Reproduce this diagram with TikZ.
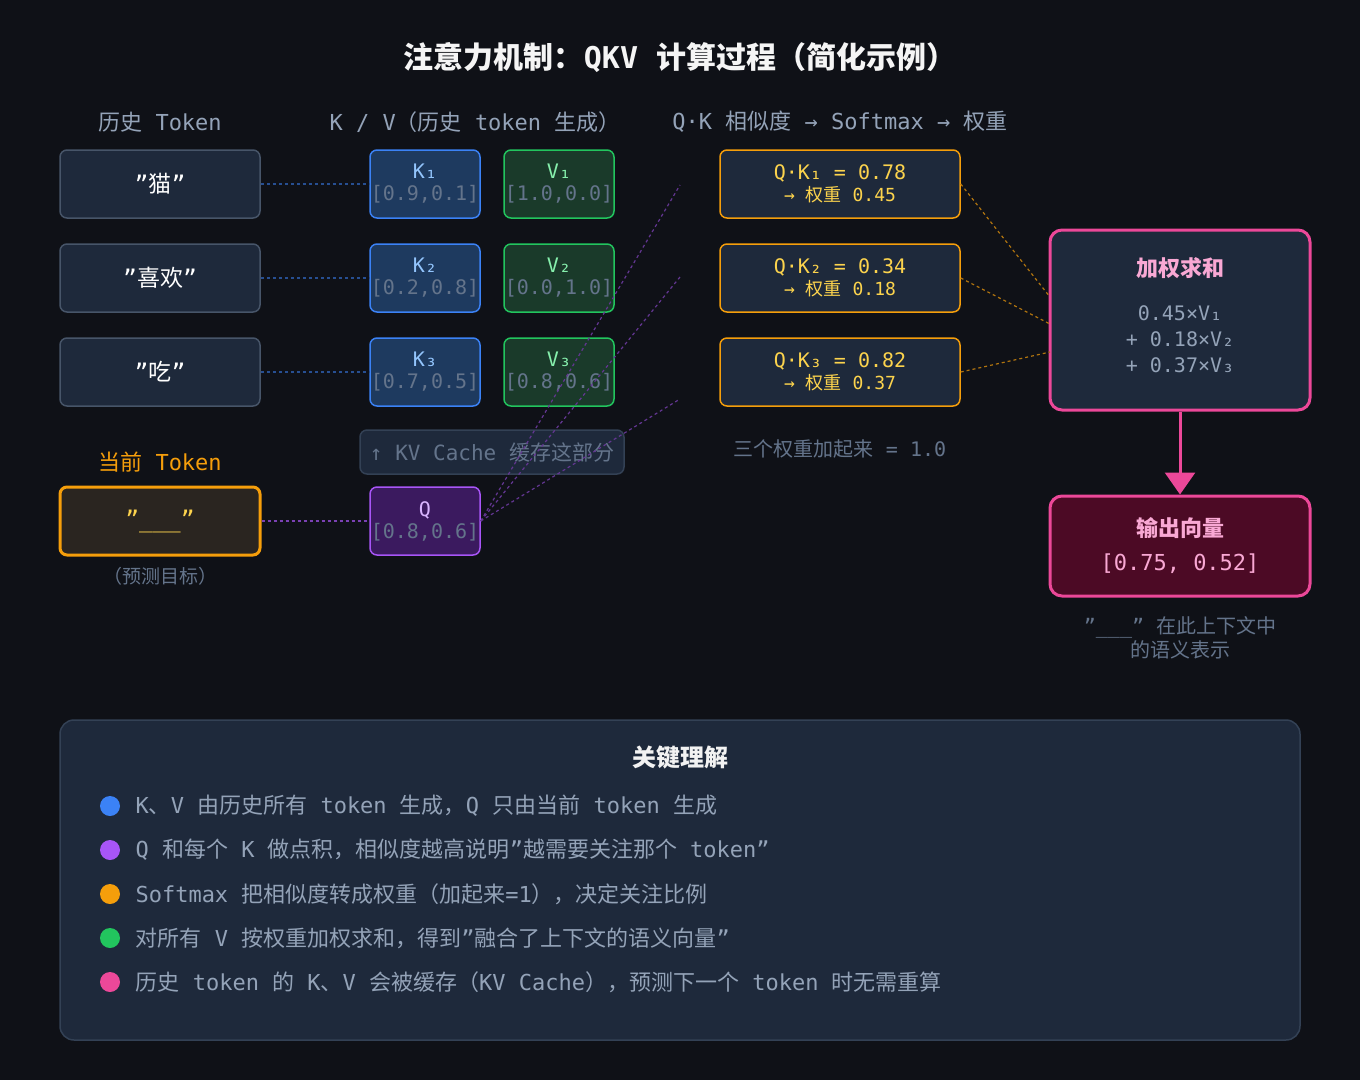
\documentclass[tikz,border=0pt]{standalone}
\usepackage{fontspec}
\setmainfont{DejaVu Sans Mono}
\newfontfamily\cjk{Noto Sans CJK SC}
\newcommand\zh[1]{{\cjk #1}}
\usetikzlibrary{arrows.meta}
\definecolor{bg}{HTML}{0F1117}
\definecolor{panel}{HTML}{1E293B}
\definecolor{slate}{HTML}{475569}
\definecolor{slateb}{HTML}{334155}
\definecolor{gray4}{HTML}{94A3B8}
\definecolor{gray5}{HTML}{64748B}
\definecolor{blue5}{HTML}{3B82F6}
\definecolor{blue3}{HTML}{93C5FD}
\definecolor{kfill}{HTML}{1E3A5F}
\definecolor{green5}{HTML}{22C55E}
\definecolor{green3}{HTML}{86EFAC}
\definecolor{vfill}{HTML}{1A3A2A}
\definecolor{purp5}{HTML}{A855F7}
\definecolor{purp3}{HTML}{D8B4FE}
\definecolor{qfill}{HTML}{3B1A5F}
\definecolor{orange5}{HTML}{F59E0B}
\definecolor{yell3}{HTML}{FCD34D}
\definecolor{pink5}{HTML}{EC4899}
\definecolor{pink3}{HTML}{F9A8D4}
\definecolor{outfill}{HTML}{4C0A25}
\definecolor{curfill}{HTML}{2A2520}
\newcommand\vecl[1]{\\[-2pt]{\color{gray5}#1}}
\begin{document}
\begin{tikzpicture}[x=1pt,y=-1pt,
  fs/.style={font=\fontsize{#1}{#1}\selectfont\setlength\baselineskip{1.2\baselineskip}},
  box/.style={rounded corners=7pt,line width=1.5pt,inner sep=0pt},
  tok/.style={box,draw=slate,fill=panel,minimum width=200pt,minimum height=68pt,text=white,fs=23},
  kbox/.style={box,draw=blue5,fill=kfill,minimum width=110pt,minimum height=68pt,align=center,fs=20,text=blue3},
  vbox/.style={box,draw=green5,fill=vfill,minimum width=110pt,minimum height=68pt,align=center,fs=20,text=green3},
  qbox/.style={box,draw=purp5,fill=qfill,minimum width=110pt,minimum height=68pt,align=center,fs=20,text=purp3},
  qk/.style={box,draw=orange5,fill=panel,minimum width=240pt,minimum height=68pt,align=center,fs=20,text=yell3},
  hdr/.style={fs=22,text=gray4},
  lnk/.style={dashed,line width=1.2pt,draw=#1},
  bul/.style={circle,inner sep=0pt,minimum size=20pt,fill=#1},
  btxt/.style={anchor=west,fs=22,text=gray4}]
\fill[bg] (0,0) rectangle (1360,1080);
\useasboundingbox (0,0) rectangle (1360,1080);
\node[fs=30,text=white!92!gray] (title) at (680,58) {\bfseries\zh{\bfseries 注意力机制：}QKV \zh{\bfseries 计算过程（简化示例）}};
\node[hdr] (h1) at (160,122) {\zh{历史} Token};
\node[hdr] (h2) at (475,122) {K / V\zh{（历史} token \zh{生成）}};
\node[hdr] (h3) at (840,122) {Q·K \zh{相似度} → Softmax → \zh{权重}};
% tokens
\node[tok] (t1) at (160,184) {"\zh{猫}"};
\node[tok] (t2) at (160,278) {"\zh{喜欢}"};
\node[tok] (t3) at (160,372) {"\zh{吃}"};
\node[kbox] (k1) at (425,184) {K₁\vecl{[0.9,0.1]}};
\node[kbox] (k2) at (425,278) {K₂\vecl{[0.2,0.8]}};
\node[kbox] (k3) at (425,372) {K₃\vecl{[0.7,0.5]}};
\node[vbox] (v1) at (559,184) {V₁\vecl{[1.0,0.0]}};
\node[vbox] (v2) at (559,278) {V₂\vecl{[0.0,1.0]}};
\node[vbox] (v3) at (559,372) {V₃\vecl{[0.8,0.6]}};
\foreach \i in {1,2,3} \draw[lnk=blue5!55!bg] (t\i) -- (k\i);
% current
\node[fs=22,text=orange5] (h4) at (160,462) {\zh{当前} Token};
\node[tok,draw=orange5,fill=curfill,line width=3pt,text=yell3] (cur) at (160,521) {"\_\_\_"};
\node[fs=19,text=gray5] (pred) at (160,576) {\zh{（预测目标）}};
\node[box,draw=slateb,fill=panel,minimum width=264pt,minimum height=44pt,fs=21,text=gray5] (cache) at (492,452) {↑ KV Cache \zh{缓存这部分}};
\node[qbox] (q) at (425,521) {Q\vecl{[0.8,0.6]}};
\draw[lnk=purp5!70!bg,line width=2pt] (cur) -- (q);
\coordinate (e1) at (680,185);
\coordinate (e2) at (680,277);
\coordinate (e3) at (680,399);
\foreach \i in {1,2,3} \draw[lnk=purp5!55!bg] (q.east) -- (e\i);
% QK
\node[qk] (s1) at (840,184) {Q·K₁ = 0.78\\[-2pt]{\fontsize{18}{20}\selectfont → \zh{权重} 0.45}};
\node[qk] (s2) at (840,278) {Q·K₂ = 0.34\\[-2pt]{\fontsize{18}{20}\selectfont → \zh{权重} 0.18}};
\node[qk] (s3) at (840,372) {Q·K₃ = 0.82\\[-2pt]{\fontsize{18}{20}\selectfont → \zh{权重} 0.37}};
\node[fs=20,text=gray5] (sum1) at (840,449) {\zh{三个权重加起来} = 1.0};
% weighted sum
\node[box,draw=pink5,fill=panel,line width=3pt,rounded corners=12pt,minimum width=260pt,minimum height=180pt] (ws) at (1180,320) {};
\node[fs=22,text=pink3] (wst) at (1180,268) {\zh{\bfseries 加权求和}};
\node[fs=20,text=gray4,align=center] (wsb) at (1180,339) {0.45×V₁\\[2pt]+ 0.18×V₂\\[2pt]+ 0.37×V₃};
\coordinate (w1) at (1050,297);
\coordinate (w2) at (1050,324);
\coordinate (w3) at (1050,352);
\foreach \i in {1,2,3} \draw[lnk=orange5!70!bg] (s\i.east) -- (w\i);
\node[box,draw=pink5,fill=outfill,line width=3pt,rounded corners=12pt,minimum width=260pt,minimum height=100pt] (out) at (1180,546) {};
\node[fs=22,text=pink3] (outt) at (1180,528) {\zh{\bfseries 输出向量}};
\node[fs=22,text=pink3] (outv) at (1180,564) {[0.75, 0.52]};
\draw[pink5,line width=3pt,-{Triangle[length=22pt,width=30pt]}] (ws.south) -- (out.north);
\node[fs=20,text=gray5,align=center] (outd) at (1180,638) {"\_\_\_" \zh{在此上下文中}\\[0pt]\zh{的语义表示}};
% bottom panel
\node[box,draw=slateb,fill=panel,rounded corners=14pt,minimum width=1240pt,minimum height=320pt] (pan) at (680,880) {};
\node[fs=24,text=white!90!gray] (kt) at (680,757) {\zh{\bfseries 关键理解}};
\node[bul=blue5] (b1) at (110,806) {};
\node[bul=purp5] (b2) at (110,850) {};
\node[bul=orange5] (b3) at (110,894) {};
\node[bul=green5] (b4) at (110,938) {};
\node[bul=pink5] (b5) at (110,982) {};
\node[btxt] (l1) at (132,806) {K\zh{、}V \zh{由历史所有} token \zh{生成，}Q \zh{只由当前} token \zh{生成}};
\node[btxt] (l2) at (132,850) {Q \zh{和每个} K \zh{做点积，相似度越高说明}"\zh{越需要关注那个} token"};
\node[btxt] (l3) at (132,894) {Softmax \zh{把相似度转成权重（加起来}=1\zh{），决定关注比例}};
\node[btxt] (l4) at (132,938) {\zh{对所有} V \zh{按权重加权求和，得到}"\zh{融合了上下文的语义向量}"};
\node[btxt] (l5) at (132,982) {\zh{历史} token \zh{的} K\zh{、}V \zh{会被缓存（}KV Cache\zh{），预测下一个} token \zh{时无需重算}};
\end{tikzpicture}
\end{document}
